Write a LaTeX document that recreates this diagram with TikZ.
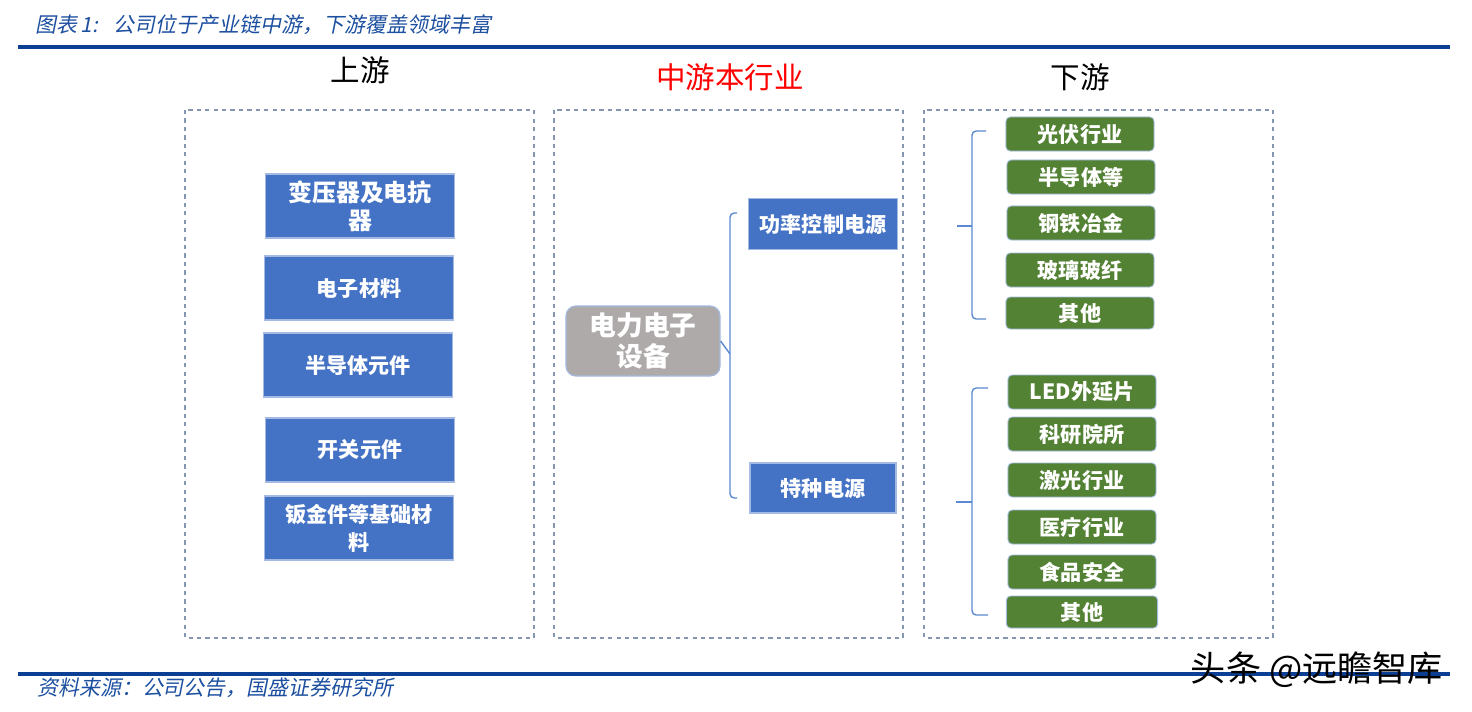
\documentclass[tikz,border=0pt]{standalone}
\usepackage{fontspec}
\setmainfont{Noto Sans CJK SC}
\newfontfamily\slantcjk{Noto Sans CJK SC}[FakeSlant=0.2]
\usepackage{xcolor}
\usetikzlibrary{positioning}
\definecolor{ruleblue}{HTML}{0B3F93}
\definecolor{capblue}{HTML}{1C4FA0}
\definecolor{boxblue}{HTML}{4472C4}
\definecolor{boxedge}{HTML}{A4BAE2}
\definecolor{leafgreen}{HTML}{548235}
\definecolor{devgray}{HTML}{AEAAAA}
\definecolor{framegray}{HTML}{8496B0}
\definecolor{bracketblue}{HTML}{5B88D0}

\begin{document}
\begin{tikzpicture}[x=0.025cm,y=-0.025cm,
 rule/.style={ruleblue,line width=2.2pt},
 caption/.style={anchor=west,text=capblue,font=\slantcjk\fontsize{14.9}{18}\selectfont,inner sep=0},
 header/.style={font=\fontsize{21}{24}\selectfont,inner sep=0},
 frame/.style={framegray,dashed,line width=0.8pt},
 upbox/.style={fill=boxblue,draw=boxedge,line width=0.8pt,text=white,align=center,
  font=\bfseries\fontsize{15}{20}\selectfont,minimum width=4.72cm,minimum height=1.6cm,inner sep=1pt},
 midbox/.style={upbox,minimum width=3.72cm,minimum height=1.26cm},
 devbox/.style={fill=devgray,draw=boxedge,line width=0.8pt,rounded corners=7pt,text=white,align=center,
  font=\bfseries\fontsize{19}{22.5}\selectfont,minimum width=3.85cm,minimum height=1.75cm},
 leaf/.style={fill=leafgreen,draw=boxedge,line width=0.6pt,rounded corners=3pt,text=white,
  font=\bfseries\fontsize{15}{18}\selectfont,minimum width=3.7cm,minimum height=0.85cm,inner sep=1pt},
 bracket/.style={bracketblue,line width=1pt,rounded corners=3pt}]
\useasboundingbox (0,0) rectangle (1472,711);

% caption and rules
\node[caption] (title) at (35,25) {图表\,1:\hspace{0.75em}公司位于产业链中游，下游覆盖领域丰富};
\draw[rule] (18,47) -- (1450,47);
\draw[rule] (18,674) -- (1450,674);
\node[caption] (source) at (37,688) {资料来源：公司公告，国盛证券研究所};
\node[font=\fontsize{25}{28}\selectfont,inner sep=0] (mark) at (1317,670) {头条 @远瞻智库};

% three columns
\node[header] (uphead) at (360,70) {上游};
\node[header,text=red] (midhead) at (730,77) {中游本行业};
\node[header] (downhead) at (1080,77) {下游};
\draw[frame] (185,110) rectangle (534,638);
\draw[frame] (554,110) rectangle (903,638);
\draw[frame] (924,110) rectangle (1273,638);

% upstream
\node[upbox,font=\bfseries\fontsize{17}{20}\selectfont] (trafo) at (360,206) {变压器及电抗\\器};
\node[upbox] (elec) at (359,288) {电子材料};
\node[upbox] (semi) at (358,365) {半导体元件};
\node[upbox] (switch) at (360,450) {开关元件};
\node[upbox] (sheet) at (359,528) {钣金件等基础材\\料};

% midstream
\node[devbox] (dev) at (643,341) {电力电子\\设备};
\node[midbox] (power) at (823,224) {功率控制电源};
\node[midbox,minimum width=3.65cm,minimum height=1.25cm] (special) at (823,488) {特种电源};
\coordinate (mtop) at (737,213);
\coordinate (mbot) at (737,498);
\draw[bracket] (mtop) -- (730,213) -- (730,498) -- (mbot);
\draw[bracket,rounded corners=0pt] (dev.east) -- (730,354);

% downstream, power control
\node[leaf] (pv) at (1080,134) {光伏行业};
\node[leaf] (semid) at (1081,177) {半导体等};
\node[leaf] (steel) at (1081,223) {钢铁冶金};
\node[leaf] (glass) at (1080,270) {玻璃玻纤};
\node[leaf,minimum height=0.8cm] (other1) at (1080,313) {其他};
\draw[bracket] (986,131) -- (972,131) -- (972,319) -- (986,319);
\draw[bracket,rounded corners=0pt] (972,226) -- (957,226);

% downstream, special
\node[leaf] (led) at (1082,392) {LED外延片};
\node[leaf] (lab) at (1082,434) {科研院所};
\node[leaf] (laser) at (1082,480) {激光行业};
\node[leaf] (med) at (1082,527) {医疗行业};
\node[leaf] (food) at (1082,572) {食品安全};
\node[leaf,minimum width=3.78cm,minimum height=0.8cm] (other2) at (1082,612) {其他};
\draw[bracket] (988,388) -- (972,388) -- (972,615) -- (988,615);
\draw[bracket,rounded corners=0pt] (972,502) -- (956,502);
\end{tikzpicture}
\end{document}
